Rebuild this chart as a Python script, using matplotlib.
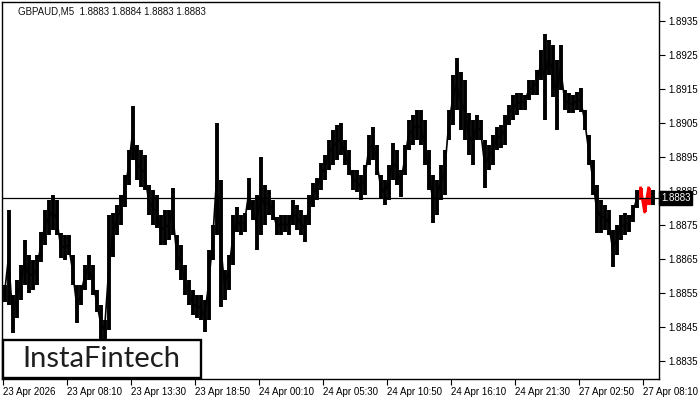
import matplotlib
matplotlib.use('Agg')
import matplotlib.pyplot as plt
from matplotlib.patches import Rectangle
import matplotlib.transforms as mtransforms

OUTPUT_FILE = "out.png"

# each entry = one group of 4 M5 bars
highs = [
    1.88574, 1.88794, 1.88544, 1.88588, 1.88632, 1.88706, 1.88662, 1.88647, 1.88662, 1.88729,
    1.88794, 1.88824, 1.88838, 1.88824, 1.88726, 1.88721, 1.88721, 1.88662, 1.88574, 1.88574,
    1.88632, 1.88662, 1.88632, 1.88559, 1.88515, 1.88471, 1.88779, 1.88785, 1.88809, 1.88838,
    1.88897, 1.88971, 1.89100, 1.88985, 1.88971, 1.88956, 1.88868, 1.88853, 1.88838, 1.88779,
    1.88794, 1.88794, 1.88859, 1.88721, 1.88691, 1.88632, 1.88588, 1.88559, 1.88544, 1.88544,
    1.88529, 1.88676, 1.88750, 1.89050, 1.88882, 1.88618, 1.88662, 1.88779, 1.88803, 1.88779,
    1.88785, 1.88888, 1.88824, 1.88838, 1.88950, 1.88868, 1.88853, 1.88824, 1.88774, 1.88779,
    1.88779, 1.88779, 1.88824, 1.88809, 1.88794, 1.88779, 1.88838, 1.88874, 1.88888, 1.88932,
    1.88956, 1.89000, 1.89029, 1.89044, 1.89050, 1.89000, 1.88971, 1.88912, 1.88912, 1.88897,
    1.88926, 1.89015, 1.89038, 1.88985, 1.88897, 1.88882, 1.88926, 1.88991, 1.88971, 1.88912,
    1.88985, 1.89059, 1.89074, 1.89088, 1.89088, 1.89059, 1.88971, 1.88897, 1.88882, 1.88926,
    1.88971, 1.89088, 1.89191, 1.89241, 1.89200, 1.89176, 1.89079, 1.89059, 1.89074, 1.89059,
    1.89000, 1.88985, 1.89015, 1.89038, 1.89044, 1.89074, 1.89103, 1.89132, 1.89138, 1.89138,
    1.89132, 1.89176, 1.89176, 1.89206, 1.89265, 1.89312, 1.89294, 1.89279, 1.89235, 1.89279,
    1.89147, 1.89138, 1.89132, 1.89141, 1.89153, 1.89088, 1.89015, 1.88941, 1.88868, 1.88824,
    1.88809, 1.88794, 1.88735, 1.88750, 1.88779, 1.88785, 1.88779, 1.88809, 1.88853, 1.88859,
    1.88829, 1.88859, 1.88853,
]
lows = [
    1.88524, 1.88515, 1.88432, 1.88476, 1.88529, 1.88574, 1.88550, 1.88559, 1.88574, 1.88641,
    1.88691, 1.88721, 1.88735, 1.88721, 1.88653, 1.88647, 1.88662, 1.88574, 1.88462, 1.88515,
    1.88559, 1.88588, 1.88544, 1.88494, 1.88412, 1.88412, 1.88441, 1.88656, 1.88721, 1.88750,
    1.88803, 1.88868, 1.88941, 1.88882, 1.88862, 1.88853, 1.88779, 1.88750, 1.88741, 1.88691,
    1.88691, 1.88706, 1.88721, 1.88618, 1.88588, 1.88544, 1.88515, 1.88485, 1.88476, 1.88471,
    1.88435, 1.88471, 1.88647, 1.88721, 1.88509, 1.88529, 1.88559, 1.88632, 1.88729, 1.88721,
    1.88729, 1.88794, 1.88765, 1.88676, 1.88721, 1.88750, 1.88779, 1.88765, 1.88721, 1.88721,
    1.88729, 1.88721, 1.88750, 1.88735, 1.88721, 1.88700, 1.88750, 1.88803, 1.88824, 1.88853,
    1.88882, 1.88912, 1.88926, 1.88941, 1.88956, 1.88926, 1.88897, 1.88853, 1.88847, 1.88824,
    1.88838, 1.88926, 1.88941, 1.88897, 1.88829, 1.88809, 1.88824, 1.88882, 1.88868, 1.88832,
    1.88897, 1.88971, 1.88985, 1.89000, 1.88985, 1.88926, 1.88853, 1.88756, 1.88779, 1.88824,
    1.88838, 1.89000, 1.89044, 1.89088, 1.89029, 1.89000, 1.88956, 1.88926, 1.89000, 1.89000,
    1.88859, 1.88912, 1.88926, 1.88971, 1.88976, 1.88985, 1.89044, 1.89059, 1.89074, 1.89088,
    1.89088, 1.89118, 1.89132, 1.89132, 1.89176, 1.89059, 1.89191, 1.89126, 1.89029, 1.89147,
    1.89088, 1.89079, 1.89079, 1.89088, 1.89082, 1.89029, 1.88926, 1.88838, 1.88726, 1.88726,
    1.88735, 1.88721, 1.88626, 1.88662, 1.88706, 1.88721, 1.88729, 1.88759, 1.88800, 1.88824,
    1.88788, 1.88809, 1.88809,
]
pattern_bars = [159, 160, 161]   # highlighted in red

last_price = 1.8883
title_text = "GBPAUD,M5  1.8883 1.8884 1.8883 1.8883"
y_ticks = [1.8835, 1.8845, 1.8855, 1.8865, 1.8875, 1.8885, 1.8895, 1.8905, 1.8915, 1.8925, 1.8935]
x_tick_labels = ["23 Apr 2026", "23 Apr 08:10", "23 Apr 13:30", "23 Apr 18:50", "24 Apr 00:10",
                 "24 Apr 05:30", "24 Apr 10:50", "24 Apr 16:10", "24 Apr 21:30", "27 Apr 02:50",
                 "27 Apr 08:10"]


def main():
    plt.rcParams["font.family"] = ["Liberation Sans", "DejaVu Sans"]
    fig = plt.figure(figsize=(7, 4), dpi=100)
    ax = fig.add_axes([2 / 700, 1 - 379 / 400, 657 / 700, 377 / 400])

    idx = list(range(len(highs)))
    colors = ["red" if i in pattern_bars else "black" for i in idx]
    ax.vlines(idx, lows, highs, colors=colors, linewidth=2.8)

    # thin path through bar midpoints so the price trace looks continuous
    mids = [(h + l) / 2 for h, l in zip(highs, lows)]
    p0 = pattern_bars[0]
    ax.plot(idx[:p0], mids[:p0], color="black", linewidth=1.2)
    ax.plot(idx[p0 + 3:], mids[p0 + 3:], color="black", linewidth=1.2)
    # red "V" of the highlighted pattern: high -> low -> high
    ax.plot(pattern_bars, [highs[p0], lows[p0 + 1], highs[p0 + 2]], color="red", linewidth=2.0)

    ax.axhline(last_price, color="black", linewidth=0.9)

    ax.set_ylim(1.88297, 1.89406)
    ax.set_xlim(-0.625, 163.6)

    ax.yaxis.tick_right()
    ax.set_yticks(y_ticks)
    ax.set_yticklabels([f"{v:.4f}" for v in y_ticks])
    ax.tick_params(axis="y", direction="out", length=4, width=0.8, pad=3, labelsize=7)

    ax.set_xticks([16 * k - 0.4 for k in range(len(x_tick_labels))])
    ax.set_xticklabels(x_tick_labels, ha="left")
    ax.tick_params(axis="x", direction="out", length=4, width=0.8, pad=2, labelsize=7)

    for sp in ax.spines.values():
        sp.set_linewidth(1.0)
        sp.set_color("black")

    # current price tag on the right axis
    trans = mtransforms.blended_transform_factory(ax.transAxes, ax.transData)
    ax.text(1.003, last_price, "1.8883", transform=trans, color="white", fontsize=7,
            va="center", ha="left", clip_on=False, zorder=20,
            bbox=dict(boxstyle="square,pad=0.2", facecolor="black", edgecolor="black"))

    fig.text(18 / 700, 1 - 11 / 400, title_text, fontsize=7, color="#111111", va="center", ha="left")

    # logo box
    box = Rectangle((3 / 700, 1 - 378 / 400), 198 / 700, 38 / 400, transform=fig.transFigure,
                    facecolor="white", edgecolor="black", linewidth=1.7, zorder=10)
    fig.patches.append(box)
    fig.text(101 / 700, 1 - 359 / 400, "InstaFintech", fontsize=21, color="#1e1e1e",
             ha="center", va="center", zorder=11, family=["Lato", "DejaVu Sans"])

    fig.savefig(OUTPUT_FILE, dpi=100)
    plt.close(fig)


if __name__ == "__main__":
    main()
